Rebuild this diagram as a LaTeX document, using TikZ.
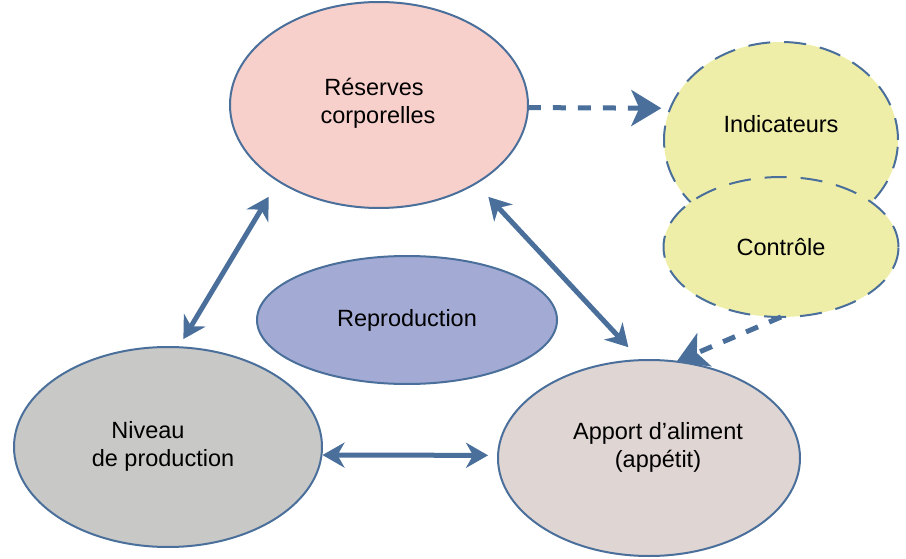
\documentclass[tikz,border=0pt]{standalone}
\usepackage{fontspec}
\setmainfont{Liberation Sans}
\usetikzlibrary{arrows.meta,shapes.geometric}
\definecolor{edge}{HTML}{4A6F9B}
\definecolor{fres}{HTML}{F8D0CB}
\definecolor{fyel}{HTML}{EEEEA8}
\definecolor{frep}{HTML}{A3ABD5}
\definecolor{fniv}{HTML}{C8C8C6}
\definecolor{fapp}{HTML}{DFD5D3}
\begin{document}
\begin{tikzpicture}[x=1pt,y=-1pt,
  ell/.style={ellipse, draw=edge, line width=2pt, inner sep=0pt, outer sep=0pt, font=\fontsize{23.5}{28}\selectfont},
  dell/.style={ell, dash pattern=on 22pt off 14pt},
  txt/.style={font=\fontsize{23.5}{28}\selectfont, align=center, inner sep=0pt},
  dbl/.style={draw=edge, line width=5pt, {Stealth[length=22pt,width=25pt,inset=7pt]}-{Stealth[length=22pt,width=25pt,inset=7pt]}},
  dsh/.style={draw=edge, line width=5pt, dash pattern=on 13pt off 12pt, -{Stealth[length=30pt,width=36pt,inset=8pt]}}]
\useasboundingbox (0,0) rectangle (906,559);

\node[ell, fill=fres, minimum width=298pt, minimum height=206pt] (res) at (379,105) {};
\node[dell, fill=fyel, minimum width=234pt, minimum height=196pt] (ind) at (781,140) {};
\node[dell, fill=fyel, minimum width=235pt, minimum height=140pt] (ctl) at (781,247) {Contrôle};
\node[ell, fill=frep, minimum width=300pt, minimum height=128pt] (rep) at (407,320) {Reproduction};
\node[ell, fill=fniv, minimum width=308pt, minimum height=200pt] (niv) at (168,447) {};
\node[ell, fill=fapp, minimum width=302pt, minimum height=196pt] (app) at (649,458) {};

\node[txt] (tres) at (378,103) {Réserves\hspace*{8pt}\\corporelles};
\node[txt] (tind) at (781,124) {Indicateurs};
\node[txt] (tniv) at (163,446) {Niveau\hspace*{30pt}\\de production};
\node[txt] (tapp) at (658,447) {Apport d’aliment\\(appétit)};

\draw[dbl, shorten <=18.5pt, shorten >=9.5pt] (res.217.6) -- (niv.84.9);
\draw[dbl, shorten <=18.5pt, shorten >=17.7pt] (res.321.9) -- (app.95.2);
\draw[dbl, shorten <=1pt, shorten >=10pt] (niv.-3.7) -- (app.179.6);
\draw[dsh, shorten >=9pt] (res.-1.9) -- (ind.164.9);
\draw[dsh] (ctl.south) -- (app.74.9);
\end{tikzpicture}
\end{document}
